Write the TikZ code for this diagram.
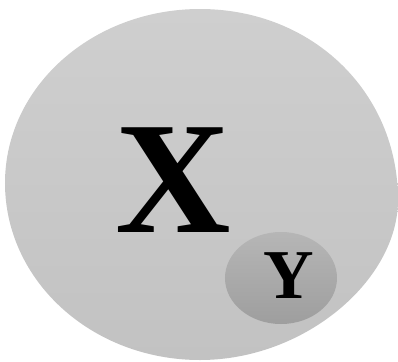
\documentclass[tikz,border=0pt]{standalone}
\usepackage{fontspec}
\setmainfont{Liberation Serif}
\usetikzlibrary{positioning,shapes.geometric}
\definecolor{outertop}{RGB}{207,207,207}
\definecolor{outerbot}{RGB}{194,194,194}
\definecolor{innertop}{RGB}{182,182,182}
\definecolor{innerbot}{RGB}{158,158,158}
\tikzset{
  outerset/.style={top color=outertop, bottom color=outerbot, draw=none},
  innerset/.style={ellipse, top color=innertop, bottom color=innerbot, draw=none, minimum width=56pt, minimum height=46pt, inner sep=0pt},
  biglbl/.style={font=\fontsize{80}{80}\selectfont\bfseries, inner sep=0pt},
  smalllbl/.style={font=\fontsize{35}{35}\selectfont\bfseries, inner sep=0pt},
}

\begin{document}
\begin{tikzpicture}[x=0.5pt, y=-0.5pt]
\useasboundingbox (0,0) rectangle (398,361);
\coordinate (stop) at (200,9);
\coordinate (sright) at (398,200);
\coordinate (sbottom) at (200,360);
\coordinate (sleft) at (5,183);
\path[outerset] (stop) .. controls (312,9) and (398,92) .. (sright)
  .. controls (398,280) and (305,360) .. (sbottom)
  .. controls (92,360) and (5,281) .. (sleft)
  .. controls (5,87) and (92,9) .. (stop) -- cycle;
\node[innerset] (yset) at (281,278) {};
\node[biglbl] (xlbl) at (173,180) {X};
\node[smalllbl] (ylbl) at (288.5,276) {Y};
\end{tikzpicture}
\end{document}
